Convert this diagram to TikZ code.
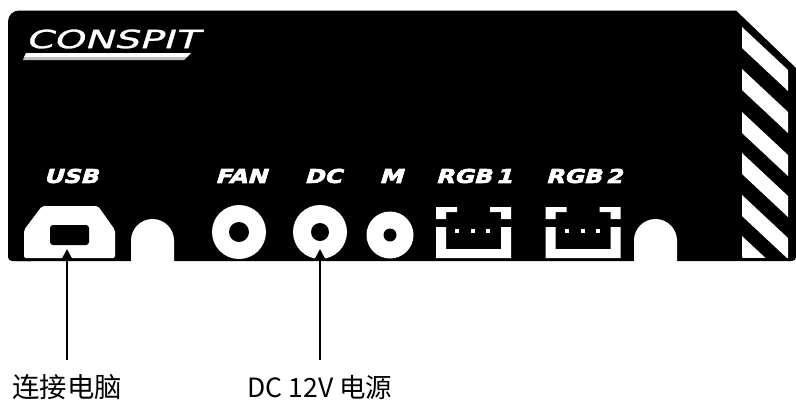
\documentclass[tikz,border=0pt]{standalone}
\usepackage{fontspec}
\usetikzlibrary{arrows.meta}
\setmainfont{Noto Sans CJK SC}
\newfontfamily\silkfont[FakeSlant=0.3,FakeStretch=1.25,FakeBold=3.5,WordSpace=0.5]{DejaVu Sans Bold}
\newfontfamily\logofont[FakeSlant=0.3,FakeStretch=1.58,FakeBold=1.2]{DejaVu Sans}
\tikzset{
	silk/.style={white,inner sep=0pt,font=\silkfont\fontsize{19}{19}\selectfont},
	callout/.style={black,inner sep=0pt,minimum height=28pt,font=\fontsize{26.5}{28}\selectfont},
	pointer/.style={black,line width=2pt,-{Triangle[length=10pt,width=10pt]}}
}
% white-on-black header with a 3 pin outline, used twice
\newcommand{\rgbheader}[1]{
	\begin{scope}[shift={(#1,0)}]
		\fill [white] (0,207) -- ++(21,0) -- ++(0,5) -- ++(-11,0) -- ++(0,7) -- ++(-10,0) -- cycle;
		\fill [white] (75,207) -- ++(-21,0) -- ++(0,5) -- ++(11,0) -- ++(0,7) -- ++(10,0) -- cycle;
		\fill [white] (0,227) -- ++(10,0) -- ++(0,22) -- ++(55,0) -- ++(0,-22) -- ++(10,0) -- (75,258) -- (0,258) -- cycle;
		\foreach \x in {21,37,52}
			\fill [white] (\x-2,229) rectangle ++(4,4);
	\end{scope}
}
\begin{document}
\begin{tikzpicture}[x=1pt,y=-1pt]
	\useasboundingbox (0,0) rectangle (796,400);
	% panel
	\fill [black] (8,22) [rounded corners=11pt] -- (8,10.5) [sharp corners] -- (736,10.5) -- (796,68)
		[rounded corners=4pt] -- (796,261) -- (8,261) [sharp corners] -- cycle;
	\fill [black, rounded corners=9pt] (8,40) -- (8,261) -- (40,261) -- (40,240) -- cycle;
	% mounting notches
	\fill [white] (131,262) -- (131,240.5) arc [start angle=180, end angle=360, radius=21.5] -- (174,262) -- cycle;
	\fill [white] (634,262) -- (634,240.5) arc [start angle=180, end angle=360, radius=21.5] -- (677,262) -- cycle;
	% stripes
	\begin{scope}
		\clip (742,10) rectangle (788,257);
		\foreach \y in {27,69,112,153,195,236}
			\fill [white] (742,\y) -- (788,\y+43) -- (788,\y+64) -- (742,\y+21) -- cycle;
	\end{scope}
	% logo
	\node [white,inner sep=0pt,font=\logofont\fontsize{25}{25}\selectfont] (logo) at (112,39) {CONSPIT};
	\fill [white] (26,53) -- (191,53) -- (187,57) -- (24,57) -- cycle;
	\fill [black!25] (24,57) -- (187,57) -- (184,60) -- (23,60) -- cycle;
	% port names
	\node [silk] (usbname) at (71,176) {USB};
	\node [silk] (fanname) at (241,176) {FAN};
	\node [silk] (dcname) at (323,176) {DC};
	\node [silk] (mname) at (391,176) {M};
	\node [silk] (rgbonename) at (474,176) {RGB 1};
	\node [silk] (rgbtwoname) at (584,176) {RGB 2};
	% usb socket
	\fill [white, rounded corners=2pt] (42,206) -- (98,206) -- (115,230) -- (115,258) -- (24,258) -- (24,230) -- cycle;
	\fill [black, rounded corners=3pt] (50,225) rectangle (89,245);
	% round jacks
	\fill [white] (239,232) circle (27);
	\fill [black] (239,232) circle (10);
	\fill [white] (320,232) circle (27);
	\fill [black] (320,232) circle (9);
	\fill [white] (390,235) circle (23.5);
	\fill [black] (390,235) circle (6.5);
	\rgbheader{436}
	\rgbheader{545.5}
	% callouts
	\coordinate (usbport) at (67,249);
	\coordinate (dcport) at (320,249);
	\node [callout,font=\fontsize{27.4}{28}\selectfont] (pclabel) at (67,387) {连接电脑};
	\node [callout] (powerlabel) at (320,387) {DC 12V 电源};
	\draw [pointer] (pclabel.north |- 0,360) -- (usbport);
	\draw [pointer] (powerlabel.north |- 0,360) -- (dcport);
\end{tikzpicture}
\end{document}
